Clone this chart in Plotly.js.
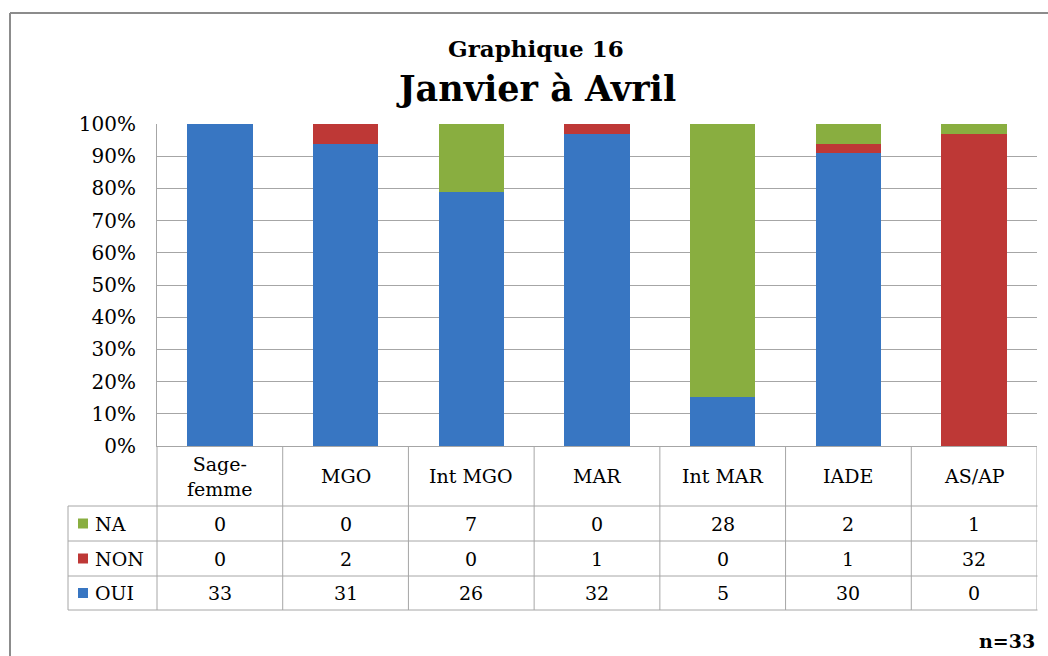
<!DOCTYPE html>
<html>
<head>
<meta charset="utf-8">
<script src="https://cdn.plot.ly/plotly-3.0.1.min.js"></script>
<style>html,body{margin:0;padding:0;background:#fff;}#chart{width:1048px;height:656px;}</style>
</head>
<body>
<div id="chart"></div>
<script>
// ---- data ----
const categories = ["Sage-femme", "MGO", "Int MGO", "MAR", "Int MAR", "IADE", "AS/AP"];
const headerLabels = ["Sage-<br>femme", "MGO", "Int MGO", "MAR", "Int MAR", "IADE", "AS/AP"];
const naValues  = [0, 0, 7, 0, 28, 2, 1];
const nonValues = [0, 2, 0, 1, 0, 1, 32];
const ouiValues = [33, 31, 26, 32, 5, 30, 0];
const seriesNames = ["NA", "NON", "OUI"];
const yTickVals = [0, 0.1, 0.2, 0.3, 0.4, 0.5, 0.6, 0.7, 0.8, 0.9, 1];
const titleLine1 = "Graphique 16";
const titleLine2 = "Janvier à Avril";
const noteText = "n=33";

// ---- geometry helpers (pixel -> paper) ----
const W = 1048, H = 656;
const L = 157, R = 1037, T = 124, B = 446;
const px = x => (x - L) / (R - L);
const py = y => (B - y) / (B - T);

const colors = {OUI: "#3876C2", NON: "#BE3836", NA: "#89AE40"};
const gridCol = "#A6A6A6";
const font = "'DejaVu Serif', serif";

const traces = [
  {type: "bar", name: "OUI", x: categories, y: ouiValues, marker: {color: colors.OUI}, width: 0.52},
  {type: "bar", name: "NON", x: categories, y: nonValues, marker: {color: colors.NON}, width: 0.52},
  {type: "bar", name: "NA", x: categories, y: naValues, marker: {color: colors.NA}, width: 0.52}
];

const shapes = [];
const annotations = [];
const line = (x0, y0, x1, y1, xref, col, w) => shapes.push({type: "line", xref: xref || "paper", yref: "paper", x0, y0, x1, y1, line: {color: col || gridCol, width: w || 1}});

// frame
line(px(10), py(13), px(1060), py(13), "paper", "#8C8C8C", 2);
line(px(10), py(13), px(10), py(670), "paper", "#8C8C8C", 2);

// table rows
const rowTops = [506, 541, 576, 610];
rowTops.forEach(y => line(px(68), py(y), px(1037.5), py(y)));
line(px(68), py(506), px(68), py(610));
line(0, py(446), 0, py(610));
for (let i = 0; i < categories.length; i++) {
  shapes.push({type: "line", xref: "x", yref: "paper", x0: i + 0.5, x1: i + 0.5, y0: py(446), y1: py(610), line: {color: gridCol, width: 1}});
}

const fs = 19;
// header labels
categories.forEach((c, i) => annotations.push({xref: "x", yref: "paper", x: c, y: py(476), text: headerLabels[i], showarrow: false, font: {family: font, size: fs, color: "#000"}, xanchor: "center", yanchor: "middle"}));

// rows
const rows = [
  {name: seriesNames[0], vals: naValues, col: colors.NA, yc: 523.5},
  {name: seriesNames[1], vals: nonValues, col: colors.NON, yc: 558.5},
  {name: seriesNames[2], vals: ouiValues, col: colors.OUI, yc: 593}
];
rows.forEach(r => {
  shapes.push({type: "rect", xref: "paper", yref: "paper", x0: px(78), x1: px(88), y0: py(r.yc - 5), y1: py(r.yc + 5), fillcolor: r.col, line: {width: 0}});
  annotations.push({xref: "paper", yref: "paper", x: px(93), y: py(r.yc), text: r.name, showarrow: false, xanchor: "left", yanchor: "middle", font: {family: font, size: fs, color: "#000"}});
  r.vals.forEach((v, i) => annotations.push({xref: "x", yref: "paper", x: categories[i], y: py(r.yc), text: String(v), showarrow: false, xanchor: "center", yanchor: "middle", font: {family: font, size: fs, color: "#000"}}));
});

// titles
annotations.push({xref: "paper", yref: "paper", x: px(536), y: py(48), text: "<b>" + titleLine1 + "</b>", showarrow: false, xanchor: "center", yanchor: "middle", font: {family: font, size: 23, color: "#000"}});
annotations.push({xref: "paper", yref: "paper", x: px(536), y: py(88), text: "<b>" + titleLine2 + "</b>", showarrow: false, xanchor: "center", yanchor: "middle", font: {family: font, size: 35, color: "#000"}});
annotations.push({xref: "paper", yref: "paper", x: px(1037), y: py(641), text: "<b>" + noteText + "</b>", showarrow: false, xanchor: "right", yanchor: "middle", font: {family: font, size: 19, color: "#000"}});

const layout = {
  width: W, height: H,
  margin: {l: L, r: W - R, t: T, b: H - B, pad: 0},
  paper_bgcolor: "#fff", plot_bgcolor: "#fff",
  font: {family: font},
  barmode: "stack", barnorm: "fraction",
  showlegend: false,
  xaxis: {type: "category", range: [-0.5, 6.5], showticklabels: false, ticks: "", showgrid: false, zeroline: false, showline: true, linecolor: gridCol, linewidth: 1, fixedrange: true},
  yaxis: {range: [0, 1], tickvals: yTickVals, tickformat: ".0%", showgrid: true, gridcolor: gridCol, gridwidth: 1, zeroline: false, showline: true, linecolor: gridCol, linewidth: 1, ticks: "", ticklabelstandoff: 16, tickfont: {family: font, size: 20, color: "#000"}, fixedrange: true},
  shapes, annotations
};

Plotly.newPlot("chart", traces, layout, {displayModeBar: false, staticPlot: true});
</script>
</body>
</html>
